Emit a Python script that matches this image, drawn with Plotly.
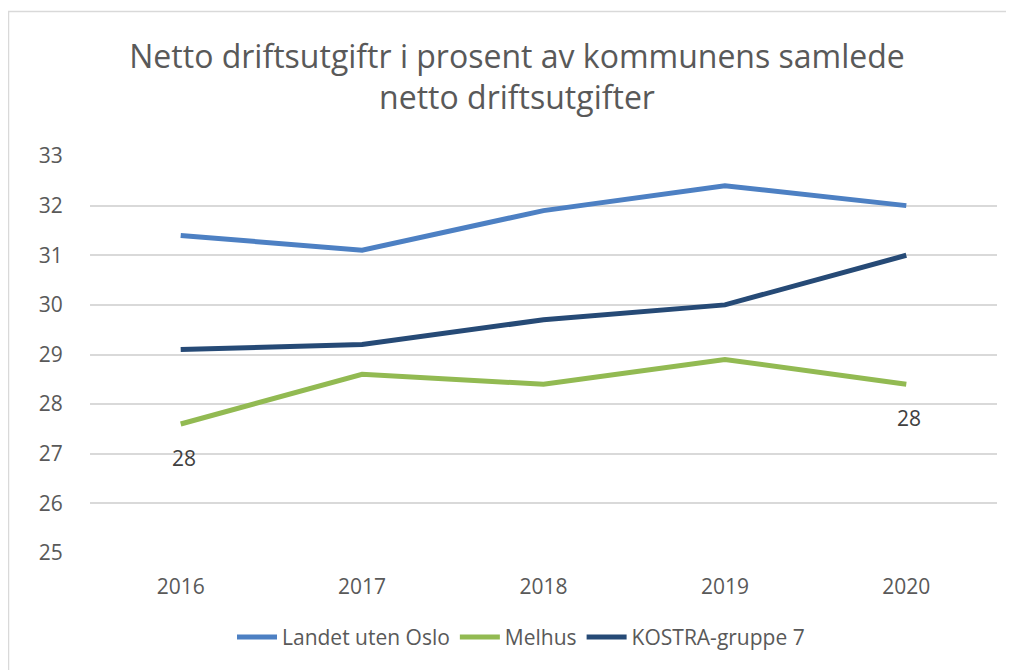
import plotly.graph_objects as go

years = ["2016", "2017", "2018", "2019", "2020"]
landet = [31.4, 31.1, 31.9, 32.4, 32.0]
melhus = [27.6, 28.6, 28.4, 28.9, 28.4]
kostra = [29.1, 29.2, 29.7, 30.0, 31.0]
melhus_labels = ["28", "", "", "", "28"]

font_family = "Open Sans, Lato, sans-serif"
grey = "#595959"

fig = go.Figure()
fig.add_trace(go.Scatter(x=years, y=landet, name="Landet uten Oslo", mode="lines",
                         line=dict(color="#4D80C3", width=5)))
fig.add_trace(go.Scatter(x=years, y=melhus, name="Melhus", mode="lines",
                         line=dict(color="#92BA52", width=5)))
fig.add_trace(go.Scatter(x=years, y=kostra, name="KOSTRA-gruppe 7", mode="lines",
                         line=dict(color="#264A76", width=5)))

# page body has an 8px margin; compensate so screen positions match the reference
OFF = 8
W, H = 1014 - OFF, 670 - OFF
l, r, t, b = 90 - OFF, 17, 156 - OFF, 114
pw, ph = W - l - r, H - t - b

def px2paper_x(px):
    return (px - OFF - l) / pw

def px2paper_y(py):
    return (H - b - (py - OFF)) / ph

annotations = []
for i, (yv, lab) in enumerate(zip(melhus, melhus_labels)):
    if lab:
        # category axis: use the category index so "2016" is not read as a number
        annotations.append(dict(x=i, y=yv, xref="x", yref="y", text=lab, showarrow=False,
                                yshift=-34, xshift=3,
                                font=dict(size=21, color="#404040", family=font_family)))

fig.update_layout(
    width=W, height=H,
    margin=dict(l=l, r=r, t=t, b=b),
    paper_bgcolor="white", plot_bgcolor="white",
    font=dict(family=font_family, color=grey, size=21),
    title=dict(text="Netto driftsutgiftr i prosent av kommunens samlede<br>netto driftsutgifter",
               x=0.506, xanchor="center", y=0.91, yanchor="top",
               font=dict(size=32, color=grey, family=font_family)),
    xaxis=dict(type="category", range=[-0.5, 4.5], showgrid=False, showline=False,
               ticks="outside", ticklen=15, tickcolor="rgba(0,0,0,0)",
               tickfont=dict(size=21, color=grey)),
    yaxis=dict(range=[25, 33], dtick=1, showgrid=True, gridcolor="#D9D9D9", gridwidth=1.5,
               zeroline=False, showline=False, ticks="outside", ticklen=22,
               tickcolor="rgba(0,0,0,0)", tickfont=dict(size=21, color=grey)),
    legend=dict(orientation="h", x=px2paper_x(521), xanchor="center",
                y=px2paper_y(641), yanchor="middle",
                font=dict(size=21, color=grey), itemwidth=40),
    showlegend=True,
    annotations=annotations,
    shapes=[dict(type="rect", xref="paper", yref="paper",
                 x0=px2paper_x(8.5), x1=px2paper_x(1030),
                 y0=px2paper_y(690), y1=px2paper_y(10.5),
                 line=dict(color="#D9D9D9", width=1.5), fillcolor="rgba(0,0,0,0)",
                 layer="below")],
)

fig.write_html("out.html")
